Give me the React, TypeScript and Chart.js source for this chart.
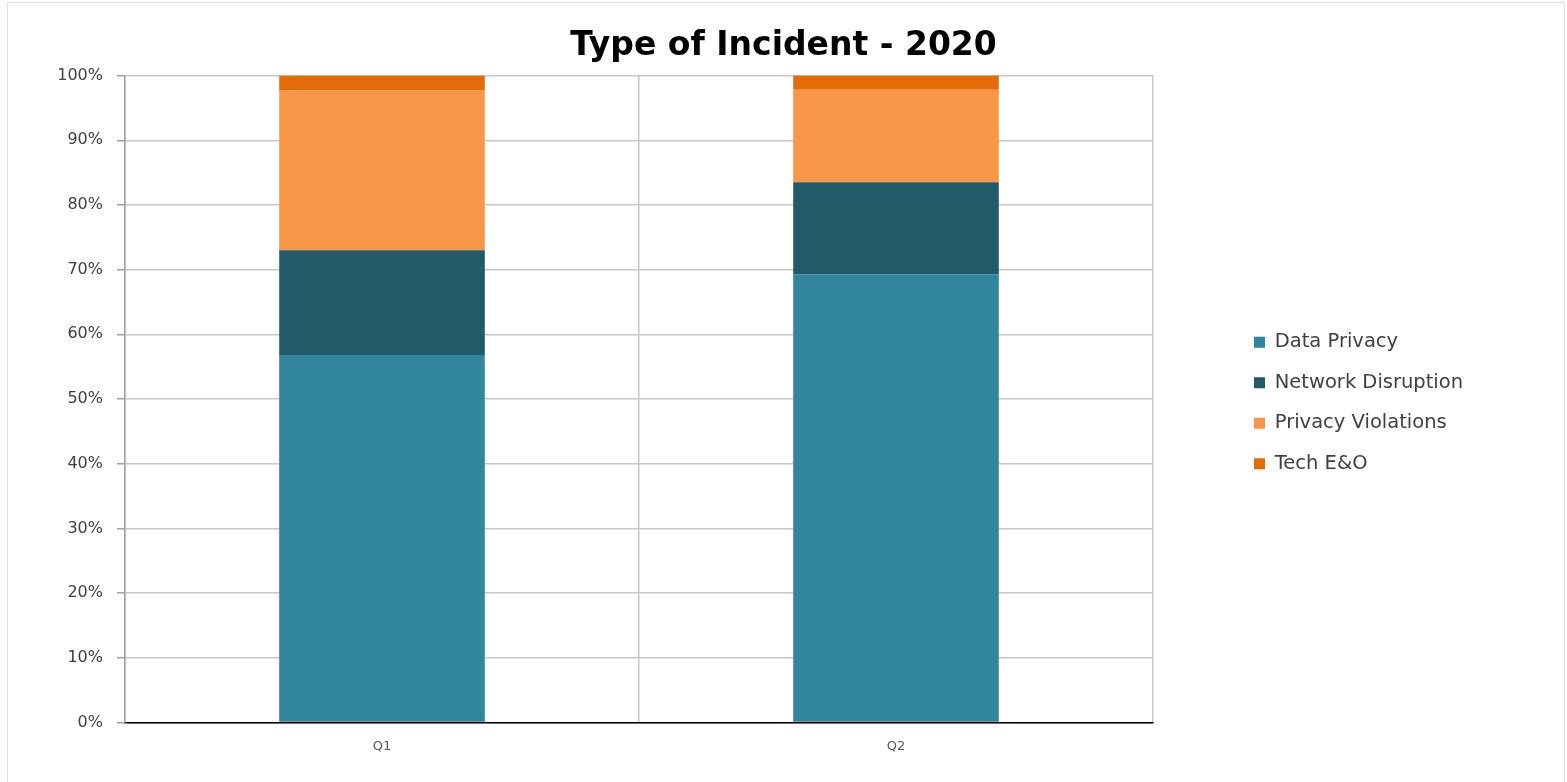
import React, { useEffect, useRef } from "react";
import { Chart, registerables } from "chart.js";

Chart.register(...registerables);

const categories = ["Q1", "Q2"];
const dataPrivacy = [56.8, 69.3];
const networkDisruption = [16.2, 14.2];
const privacyViolations = [24.7, 14.3];
const techEO = [2.3, 2.2];
const seriesNames = ["Data Privacy", "Network Disruption", "Privacy Violations", "Tech E&O"];
const seriesColors = ["#31859C", "#225A6A", "#F79646", "#E36C09"];
const titleText = "Type of Incident - 2020";

const FONT = "'DejaVu Sans', sans-serif";

const legendPlace = {
  id: "legendPlace",
  beforeInit(chart: any) {
    const legend = chart.legend;
    if (!legend) return;
    const orig = legend.fit;
    legend.fit = function () {
      orig.call(this);
      this.width = 1567 - 1153;
    };
  },
  afterLayout(chart: any) {
    const legend = chart.legend;
    if (!legend) return;
    legend.left = 1233;
    legend.top += 18;
    legend.bottom += 18;
  },
};

export default function App() {
  const ref = useRef<HTMLCanvasElement | null>(null);
  useEffect(() => {
    if (!ref.current) return;
    const values = [dataPrivacy, networkDisruption, privacyViolations, techEO];
    const chart = new Chart(ref.current, {
      type: "bar",
      data: {
        labels: categories,
        datasets: values.map((v, i) => ({
          label: seriesNames[i],
          data: v,
          backgroundColor: seriesColors[i],
          borderWidth: 0,
          categoryPercentage: 1,
          barPercentage: 0.4,
        })),
      },
      options: {
        responsive: false,
        animation: false,
        layout: { padding: { left: 0, right: 0, top: 0, bottom: 12 } },
        plugins: {
          title: {
            display: true,
            text: titleText,
            color: "#000000",
            font: { family: FONT, size: 33, weight: "bold" },
            padding: { top: 27, bottom: 9 },
          },
          legend: {
            position: "right",
            labels: {
              boxWidth: 11,
              boxHeight: 11,
              padding: 21,
              color: "#404040",
              font: { family: FONT, size: 19.5 },
            },
          },
          tooltip: { enabled: false },
        },
        scales: {
          x: {
            stacked: true,
            grid: {
              offset: true,
              color: "#c8c8c8",
              lineWidth: 1.5,
              drawTicks: false,
            },
            border: { color: "#000000", width: 1.5 },
            ticks: {
              color: "#595959",
              font: { family: FONT, size: 13 },
              padding: 16,
            },
          },
          y: {
            stacked: true,
            min: 0,
            max: 100,
            afterFit: (scale: any) => {
              scale.width = 125;
            },
            grid: {
              color: "#c8c8c8",
              lineWidth: 1.5,
              tickLength: 8,
              tickColor: "#a0a0a0",
            },
            border: { color: "#a0a0a0", width: 1.5 },
            ticks: {
              stepSize: 10,
              color: "#404040",
              padding: 14,
              font: { family: FONT, size: 16 },
              callback: (v: any) => v + "%",
            },
          },
        },
      },
      plugins: [legendPlace],
    });
    return () => chart.destroy();
  }, []);
  return (
    <div style={{ position: "fixed", left: 0, top: 0, width: 1567, height: 782, background: "#fff" }}>
      <div
        style={{
          position: "absolute",
          left: 7,
          top: 2,
          width: 1558,
          height: 790,
          border: "1px solid #e0e0e0",
          boxSizing: "border-box",
        }}
      />
      <canvas ref={ref} width={1567} height={782} style={{ position: "absolute", left: 0, top: 0 }} />
    </div>
  );
}
